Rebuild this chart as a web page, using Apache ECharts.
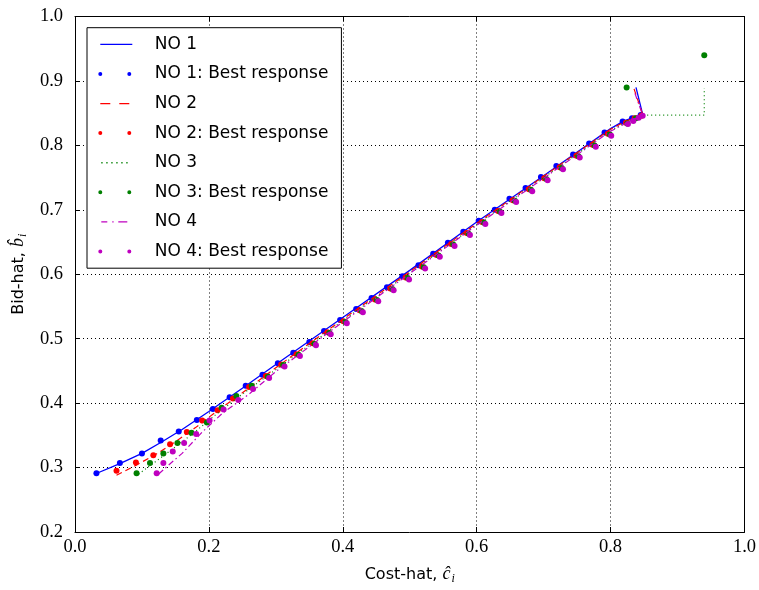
<!DOCTYPE html>
<html>
<head>
<meta charset="utf-8">
<script src="https://cdn.jsdelivr.net/npm/echarts@6/dist/echarts.min.js"></script>
<style>
  html, body { margin: 0; padding: 0; background: #fff; }
  #chart { width: 759px; height: 590px; }
</style>
</head>
<body>
<div id="chart"></div>
<script>
// Equilibrium bid functions (cost-hat -> bid-hat) for four network operators
const no1LineCost = [0.030, 0.067, 0.100, 0.130, 0.160, 0.200, 0.250, 0.300, 0.400, 0.500, 0.600, 0.700, 0.800, 0.820, 0.848, 0.838];
const no1LineBid  = [0.290, 0.306, 0.322, 0.340, 0.359, 0.387, 0.423, 0.460, 0.533, 0.606, 0.681, 0.753, 0.826, 0.838, 0.848, 0.890];

const no2LineCost = [0.062, 0.090, 0.120, 0.150, 0.180, 0.210, 0.250, 0.300, 0.400, 0.500, 0.600, 0.700, 0.800, 0.822, 0.848, 0.835];
const no2LineBid  = [0.288, 0.303, 0.320, 0.340, 0.362, 0.386, 0.416, 0.455, 0.530, 0.604, 0.679, 0.752, 0.825, 0.837, 0.848, 0.888];

const no3LineCost = [0.095, 0.120, 0.150, 0.180, 0.210, 0.250, 0.300, 0.400, 0.500, 0.600, 0.700, 0.800, 0.824, 0.848, 0.940, 0.940];
const no3LineBid  = [0.290, 0.309, 0.332, 0.356, 0.382, 0.414, 0.452, 0.528, 0.602, 0.677, 0.750, 0.823, 0.836, 0.847, 0.847, 0.889];

const no4LineCost = [0.125, 0.140, 0.160, 0.190, 0.220, 0.260, 0.300, 0.400, 0.500, 0.600, 0.700, 0.800, 0.826, 0.848, 0.836];
const no4LineBid  = [0.290, 0.304, 0.322, 0.355, 0.384, 0.414, 0.449, 0.526, 0.601, 0.676, 0.749, 0.822, 0.836, 0.847, 0.882];

// Best-response points
const no1BestCost = [0.032, 0.067, 0.100, 0.128, 0.155, 0.182, 0.206, 0.231, 0.255, 0.280, 0.303, 0.326, 0.350, 0.372, 0.396, 0.420, 0.443, 0.466, 0.489, 0.513, 0.535, 0.557, 0.580, 0.603, 0.627, 0.649, 0.673, 0.696, 0.719, 0.744, 0.768, 0.791, 0.818, 0.832, 0.845];
const no1BestBid  = [0.291, 0.307, 0.322, 0.342, 0.356, 0.374, 0.391, 0.409, 0.427, 0.444, 0.462, 0.478, 0.495, 0.512, 0.529, 0.546, 0.563, 0.580, 0.597, 0.614, 0.632, 0.649, 0.666, 0.683, 0.700, 0.717, 0.734, 0.751, 0.768, 0.786, 0.803, 0.820, 0.837, 0.842, 0.847];

const no2BestCost = [0.062, 0.091, 0.117, 0.142, 0.167, 0.190, 0.213, 0.236, 0.260, 0.285, 0.308, 0.331, 0.355, 0.377, 0.401, 0.425, 0.448, 0.471, 0.494, 0.518, 0.540, 0.562, 0.585, 0.608, 0.632, 0.654, 0.678, 0.701, 0.724, 0.749, 0.773, 0.796, 0.823, 0.836, 0.846];
const no2BestBid  = [0.295, 0.308, 0.319, 0.336, 0.355, 0.373, 0.389, 0.407, 0.425, 0.442, 0.460, 0.476, 0.493, 0.510, 0.527, 0.544, 0.561, 0.578, 0.595, 0.612, 0.630, 0.647, 0.664, 0.681, 0.698, 0.715, 0.732, 0.749, 0.766, 0.784, 0.801, 0.818, 0.835, 0.842, 0.846];

const no3BestCost = [0.092, 0.112, 0.132, 0.153, 0.174, 0.197, 0.219, 0.241, 0.264, 0.288, 0.311, 0.334, 0.358, 0.380, 0.404, 0.428, 0.451, 0.474, 0.497, 0.521, 0.543, 0.565, 0.588, 0.611, 0.635, 0.657, 0.681, 0.704, 0.727, 0.752, 0.776, 0.799, 0.825, 0.838, 0.824, 0.940];
const no3BestBid  = [0.291, 0.307, 0.322, 0.338, 0.354, 0.370, 0.393, 0.411, 0.427, 0.441, 0.459, 0.475, 0.492, 0.509, 0.526, 0.543, 0.560, 0.577, 0.594, 0.611, 0.629, 0.646, 0.663, 0.680, 0.697, 0.714, 0.731, 0.748, 0.765, 0.783, 0.800, 0.817, 0.834, 0.842, 0.890, 0.940];

const no4BestCost = [0.122, 0.132, 0.146, 0.163, 0.181, 0.201, 0.222, 0.244, 0.266, 0.290, 0.313, 0.336, 0.360, 0.382, 0.406, 0.430, 0.453, 0.476, 0.499, 0.523, 0.545, 0.567, 0.590, 0.613, 0.637, 0.659, 0.683, 0.706, 0.729, 0.754, 0.778, 0.801, 0.826, 0.834, 0.842, 0.848];
const no4BestBid  = [0.291, 0.307, 0.325, 0.338, 0.352, 0.373, 0.390, 0.405, 0.422, 0.439, 0.457, 0.473, 0.490, 0.507, 0.524, 0.541, 0.558, 0.575, 0.592, 0.609, 0.627, 0.644, 0.661, 0.678, 0.695, 0.712, 0.729, 0.746, 0.763, 0.781, 0.798, 0.815, 0.833, 0.838, 0.843, 0.846];

// Axis ticks
const xTicks = [0.0, 0.2, 0.4, 0.6, 0.8, 1.0];
const yTicks = [0.2, 0.3, 0.4, 0.5, 0.6, 0.7, 0.8, 0.9, 1.0];

const operatorNames = ['NO 1', 'NO 2', 'NO 3', 'NO 4'];
const operatorColors = ['#0000ff', '#ff0000', '#008000', '#bf00bf'];

const zip = (xs, ys) => xs.map((x, i) => [x, ys[i]]);

const lineSets = [
  zip(no1LineCost, no1LineBid),
  zip(no2LineCost, no2LineBid),
  zip(no3LineCost, no3LineBid),
  zip(no4LineCost, no4LineBid)
];
const bestSets = [
  zip(no1BestCost, no1BestBid),
  zip(no2BestCost, no2BestBid),
  zip(no3BestCost, no3BestBid),
  zip(no4BestCost, no4BestBid)
];
const lineDashes = ['solid', [6, 4], [1, 3], [6, 3, 1.5, 3]];

// Legend glyphs; the leading move-tos fix each glyph's box to the legend item size
const BOX = 'M0,0M51.4,14';
const lineIcons = [
  'path://' + BOX + 'M2,6.4h32v1.3h-32z',
  'path://' + BOX + 'M2,6.4h10v1.3h-10zM21,6.4h10v1.3h-10z',
  'path://' + BOX + 'M3,6.4h1.3v1.3h-1.3zM8,6.4h1.3v1.3h-1.3zM13,6.4h1.3v1.3h-1.3zM18,6.4h1.3v1.3h-1.3zM23,6.4h1.3v1.3h-1.3zM28,6.4h1.3v1.3h-1.3z',
  'path://' + BOX + 'M3,6.4h6v1.3h-6zM14,6.4h1.3v1.3h-1.3zM20,6.4h9v1.3h-9z'
];
const dotIcon = 'path://' + BOX + 'M0,7a2,2 0 1,0 4,0a2,2 0 1,0 -4,0zM29,7a2,2 0 1,0 4,0a2,2 0 1,0 -4,0z';

const series = [];
const legendData = [];
operatorNames.forEach((name, i) => {
  series.push({
    name: name,
    type: 'line',
    data: lineSets[i],
    showSymbol: false,
    symbol: 'none',
    color: operatorColors[i],
    lineStyle: { color: operatorColors[i], width: i === 0 ? 1.3 : 1.2, type: lineDashes[i] },
    z: 2 + i * 2
  });
  series.push({
    name: name + ': Best response',
    type: 'scatter',
    data: bestSets[i],
    symbol: 'circle',
    symbolSize: 6,
    color: operatorColors[i],
    itemStyle: { color: operatorColors[i], opacity: 1 },
    z: 3 + i * 2
  });
  legendData.push({ name: name, icon: lineIcons[i] });
  legendData.push({ name: name + ': Best response', icon: dotIcon });
});

const serif = 'Liberation Serif';
const sans = 'DejaVu Sans';

const axisCommon = {
  type: 'value',
  axisLine: { show: true, onZero: false, lineStyle: { color: '#000', width: 1 } },
  axisTick: { show: true, inside: true, length: 5, lineStyle: { color: '#000', width: 1 } }
};

const chart = echarts.init(document.getElementById('chart'), null, { renderer: 'canvas' });
chart.setOption({
  animation: false,
  backgroundColor: '#fff',
  grid: { left: 75, right: 14, top: 16.5, bottom: 54, containLabel: false },
  xAxis: [
    Object.assign({}, axisCommon, {
      min: xTicks[0], max: xTicks[xTicks.length - 1], interval: 0.2,
      position: 'bottom',
      axisLabel: { color: '#000', fontFamily: serif, fontSize: 18.5, margin: 6,
        formatter: v => v.toFixed(1) },
      splitLine: { show: true, lineStyle: { color: '#000', width: 1, type: [1, 3] } },
      name: '{t|Cost-hat, }{m|ĉ}{s|i}',
      nameLocation: 'middle',
      nameGap: 32,
      nameTextStyle: {
        rich: {
          t: { fontFamily: sans, fontSize: 16, color: '#000' },
          m: { fontFamily: serif, fontStyle: 'italic', fontSize: 18, color: '#000' },
          s: { fontFamily: serif, fontStyle: 'italic', fontSize: 12, color: '#000', padding: [9, 0, 0, 1] }
        }
      }
    }),
    Object.assign({}, axisCommon, {
      min: xTicks[0], max: xTicks[xTicks.length - 1], interval: 0.2,
      position: 'top',
      axisLabel: { show: false },
      splitLine: { show: false }
    })
  ],
  yAxis: [
    Object.assign({}, axisCommon, {
      min: yTicks[0], max: yTicks[yTicks.length - 1], interval: 0.1,
      position: 'left',
      axisLabel: { color: '#000', fontFamily: serif, fontSize: 18.5, margin: 12,
        formatter: v => v.toFixed(1) },
      splitLine: { show: true, lineStyle: { color: '#000', width: 1, type: [1, 3] } },
      name: '{t|Bid-hat, }{m|b\u0302}{s|i}',
      nameLocation: 'middle',
      nameRotate: 90,
      nameGap: 46,
      nameTextStyle: {
        rich: {
          t: { fontFamily: sans, fontSize: 16, color: '#000' },
          m: { fontFamily: serif, fontStyle: 'italic', fontSize: 18, color: '#000' },
          s: { fontFamily: serif, fontStyle: 'italic', fontSize: 12, color: '#000', padding: [9, 0, 0, 1] }
        }
      }
    }),
    Object.assign({}, axisCommon, {
      min: yTicks[0], max: yTicks[yTicks.length - 1], interval: 0.1,
      position: 'right',
      axisLabel: { show: false },
      splitLine: { show: false }
    })
  ],
  legend: {
    orient: 'vertical',
    left: 87,
    top: 27.7,
    padding: [8.1, 13, 8.2, 11.3],
    itemWidth: 51.4,
    itemHeight: 14,
    itemGap: 12.6,
    selectedMode: false,
    backgroundColor: '#fff',
    borderColor: '#000',
    borderWidth: 1,
    borderRadius: 0,
    itemStyle: { borderWidth: 0 },
    textStyle: { fontFamily: sans, fontSize: 17, color: '#000', lineHeight: 14 },
    data: legendData
  },
  series: series
});
</script>
</body>
</html>
